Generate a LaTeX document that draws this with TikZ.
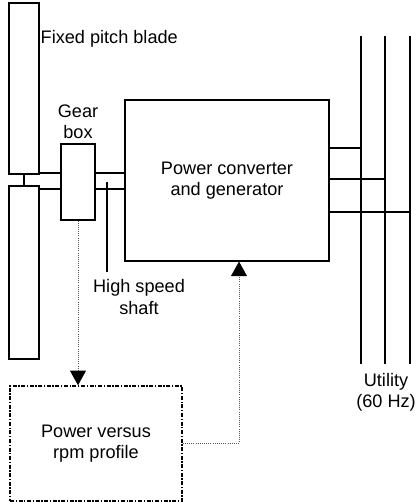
\documentclass[tikz,border=0pt]{standalone}
\usepackage{fontspec}
\setmainfont{Liberation Sans}
\usetikzlibrary{arrows.meta}

\begin{document}
\begin{tikzpicture}[x=0.75pt, y=-0.75pt,
      every node/.style={font=\fontsize{13.6}{15.8}\selectfont, align=center},
      box/.style={draw, line width=0.8pt, inner sep=0pt},
      wire/.style={line width=0.8pt},
      signal/.style={densely dotted, gray!70!black, line width=0.6pt,
        -{Triangle[width=12pt,length=11pt,color=black]}},
      profilebox/.style={box, line width=1.1pt,
        dash pattern=on 3pt off 1.2pt on 1pt off 1.2pt}]
  \useasboundingbox (0,0) rectangle (416,502);
  % rotor, gear box and converter
  \node[box, minimum width=22.5pt, minimum height=128.25pt] (upper) at (24,88.5) {};
  \node[box, minimum width=22.5pt, minimum height=129.75pt] (lower) at (24,272.5) {};
  \node[box, minimum width=25.5pt, minimum height=57pt] (gear) at (78,182) {};
  \node[box, minimum width=153pt, minimum height=120.75pt] (conv) at (227,180.5)
    {Power converter\\and generator};
  \node[profilebox, minimum width=129pt, minimum height=86.25pt] (profile) at (96,443.5)
    {Power versus\\rpm profile};
  \node[anchor=west] (bladelbl) at (36,39) {Fixed pitch blade};
  \node (gearlbl) at (78,122) {Gear\\box};
  \node (shaftlbl) at (139,297) {High speed\\shaft};
  \node (utillbl) at (386,392) {Utility\\(60 Hz)};
  \draw[wire] (upper.south) -- (lower.north);
  \draw[wire] (upper.east |- 0,173) -- (gear.west |- 0,173);
  \draw[wire] (lower.east |- 0,189) -- (gear.west |- 0,189);
  \draw[wire] (gear.east |- 0,173) -- (conv.west |- 0,173);
  \draw[wire] (gear.east |- 0,189) -- (conv.west |- 0,189);
  \coordinate (shaftpt) at (107,182);
  \draw[wire] (shaftpt) -- (107,272);
  % utility lines
  \foreach \x/\y [count=\i] in {361/148, 385/179, 410/212} {
    \coordinate (u\i top) at (\x,36);
    \coordinate (u\i bot) at (\x,364);
    \draw[wire] (u\i top) -- (u\i bot);
    \draw[wire] (conv.east |- 0,\y) -- (u\i top |- 0,\y);
  }
  % control signals
  \draw[signal] (gear.south) -- (gear.south |- profile.north);
  \draw[signal] (profile.east) -| ([xshift=9pt]conv.south);
\end{tikzpicture}
\end{document}
